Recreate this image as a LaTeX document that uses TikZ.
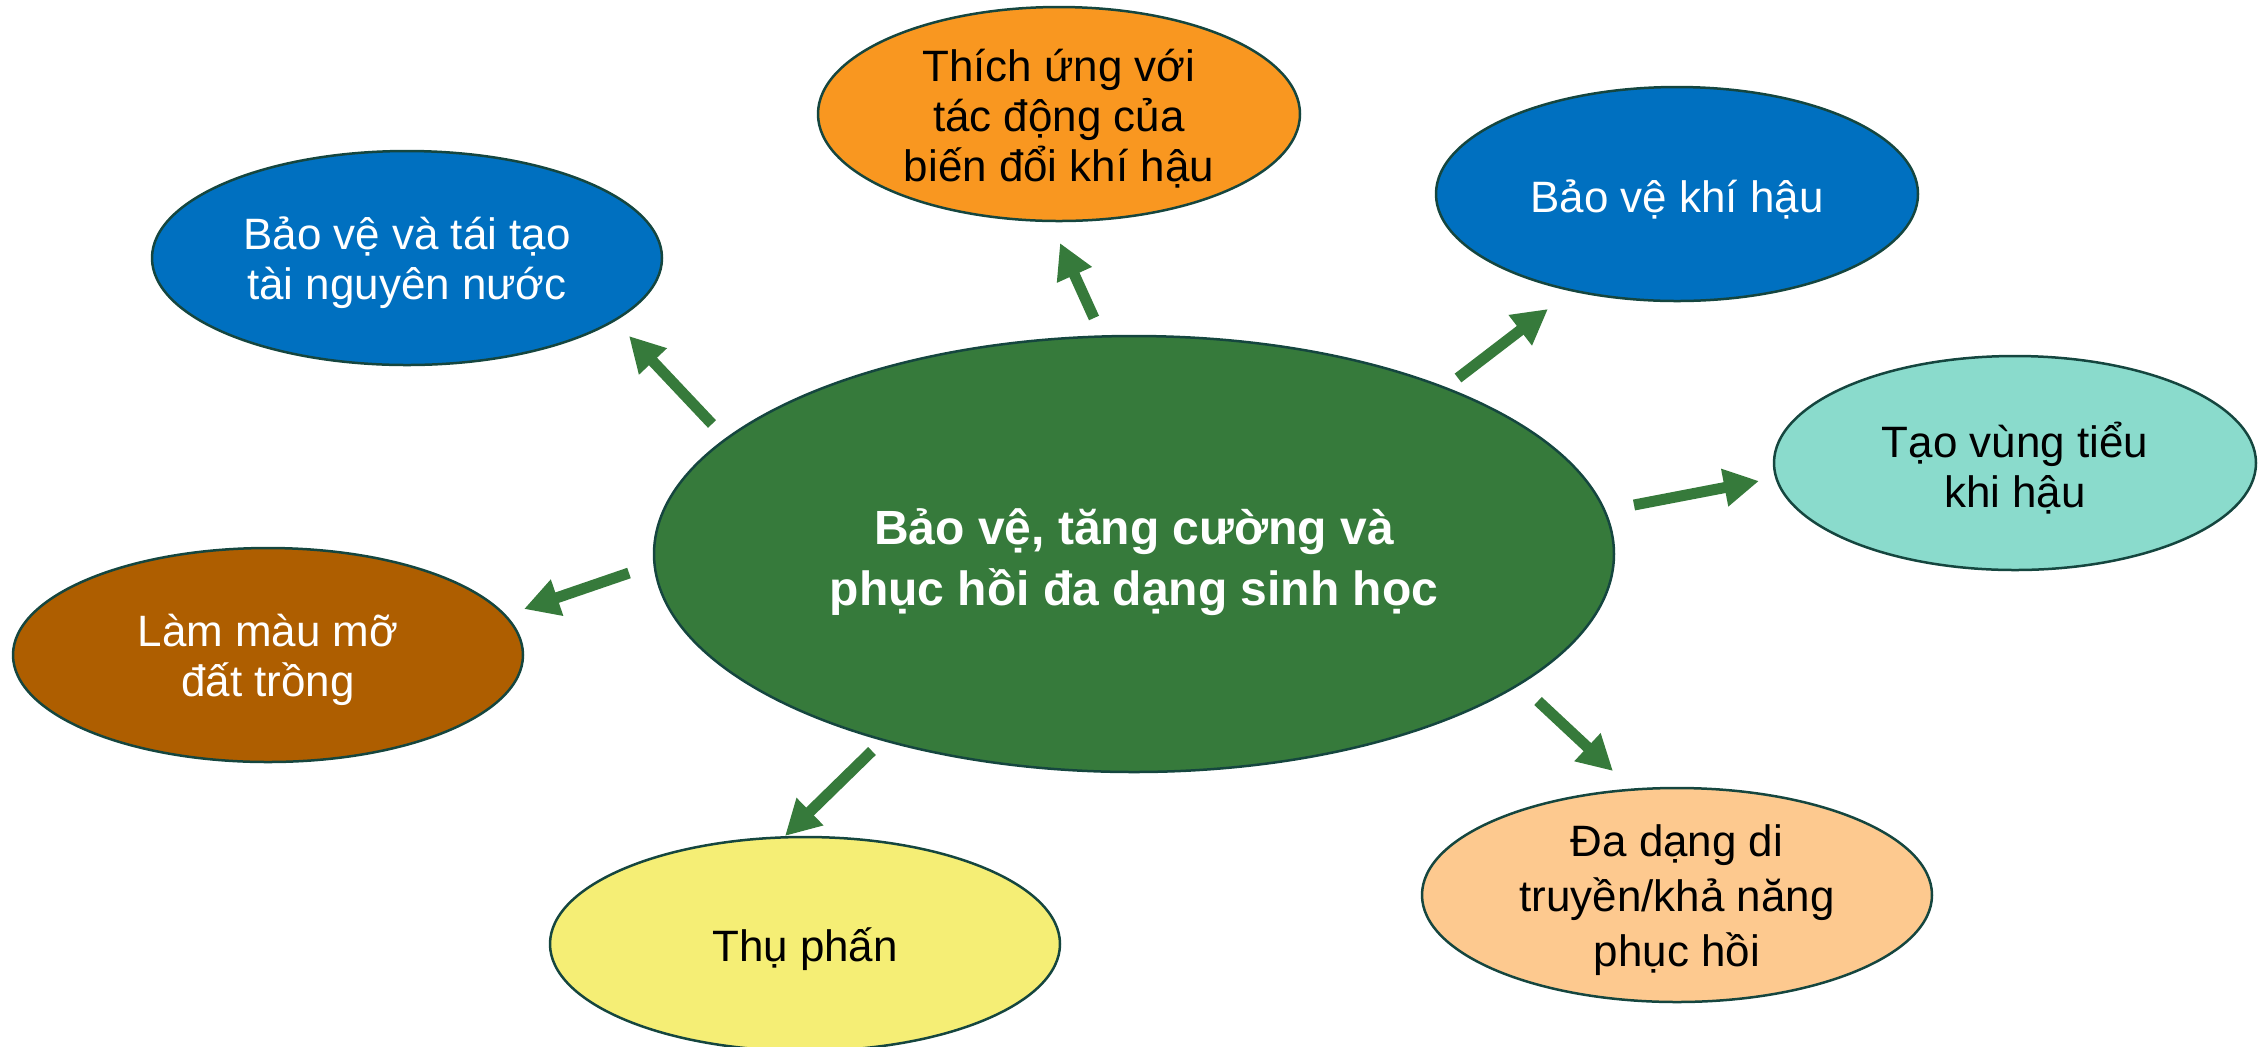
\documentclass[tikz,border=0pt]{standalone}
\usepackage{fontspec}
\setmainfont{Liberation Sans}
\usetikzlibrary{shapes.geometric,arrows.meta}
\definecolor{cgreen}{HTML}{367A3B}
\definecolor{agreen}{HTML}{367A3B}
\definecolor{edgecol}{HTML}{15463F}
\definecolor{cblue}{HTML}{0070C0}
\definecolor{corange}{HTML}{F99720}
\definecolor{caqua}{HTML}{8ADBCC}
\definecolor{cbrown}{HTML}{AE5E00}
\definecolor{cyellow}{HTML}{F5EE75}
\definecolor{cpeach}{HTML}{FDC98F}
\begin{document}
\begin{tikzpicture}[x=0.1mm,y=-0.1mm,
  bubble/.style={ellipse, draw=edgecol, line width=0.25mm, inner sep=0pt},
  wide/.style={minimum width=51mm, minimum height=21.4mm},
  narrow/.style={minimum width=48.2mm, minimum height=21.4mm},
  txt/.style={align=center, font=\fontsize{12.5}{14.2}\selectfont, inner sep=0pt, yshift=-0.5mm},
  bigtxt/.style={align=center, font=\bfseries\fontsize{13.66}{17.5}\selectfont, text=white, inner sep=0pt, yshift=-0.8mm},
  conn/.style={draw=agreen, line width=1.1mm, -{Triangle[length=3.5mm,width=3.6mm]}}]
\useasboundingbox (0,0) rectangle (2263,1046);
\clip (0,0) rectangle (2263,1046);

% ellipses
\node[bubble, fill=cgreen, minimum width=96mm, minimum height=43.6mm] (center) at (1134,554) {};
\node[bubble, narrow, fill=corange] (adapt) at (1059,114) {};
\node[bubble, wide, fill=cblue] (water) at (407,258) {};
\node[bubble, narrow, fill=cblue] (climate) at (1677,194) {};
\node[bubble, narrow, fill=caqua] (micro) at (2015,463) {};
\node[bubble, wide, fill=cbrown] (soil) at (268,655) {};
\node[bubble, wide, fill=cyellow] (poll) at (805,944) {};
\node[bubble, wide, fill=cpeach] (gene) at (1677,895) {};

% texts
\node[bigtxt] (centert) at (center) {Bảo vệ, tăng cường và\\phục hồi đa dạng sinh học};
\node[txt] (adaptt) at (adapt) {Thích ứng với\\tác động của\\biến đổi khí hậu};
\node[txt, text=white] (watert) at (water) {Bảo vệ và tái tạo\\tài nguyên nước};
\node[txt, text=white] (climatet) at (climate) {Bảo vệ khí hậu};
\node[txt] (microt) at (micro) {Tạo vùng tiểu\\khi hậu};
\node[txt, text=white] (soilt) at (soil) {Làm màu mỡ\\đất trồng};
\node[txt] (pollt) at (poll) {Thụ phấn};
\node[txt, font=\fontsize{12.5}{15.6}\selectfont] (genet) at (gene) {Đa dạng di\\truyền/khả năng\\phục hồi};

% arrow end points
\coordinate (a1s) at (1094,318); \coordinate (a1e) at (1060,243);
\coordinate (a2s) at (712,424);  \coordinate (a2e) at (629,336);
\coordinate (a3s) at (1458,378); \coordinate (a3e) at (1548,309);
\coordinate (a4s) at (1634,505); \coordinate (a4e) at (1759,481);
\coordinate (a5s) at (629,573);  \coordinate (a5e) at (524,609);
\coordinate (a6s) at (872,751);  \coordinate (a6e) at (785,836);
\coordinate (a7s) at (1538,701); \coordinate (a7e) at (1613,771);

\draw[conn] (a1s) -- (a1e);
\draw[conn] (a2s) -- (a2e);
\draw[conn] (a3s) -- (a3e);
\draw[conn] (a4s) -- (a4e);
\draw[conn] (a5s) -- (a5e);
\draw[conn] (a6s) -- (a6e);
\draw[conn] (a7s) -- (a7e);
\end{tikzpicture}
\end{document}
